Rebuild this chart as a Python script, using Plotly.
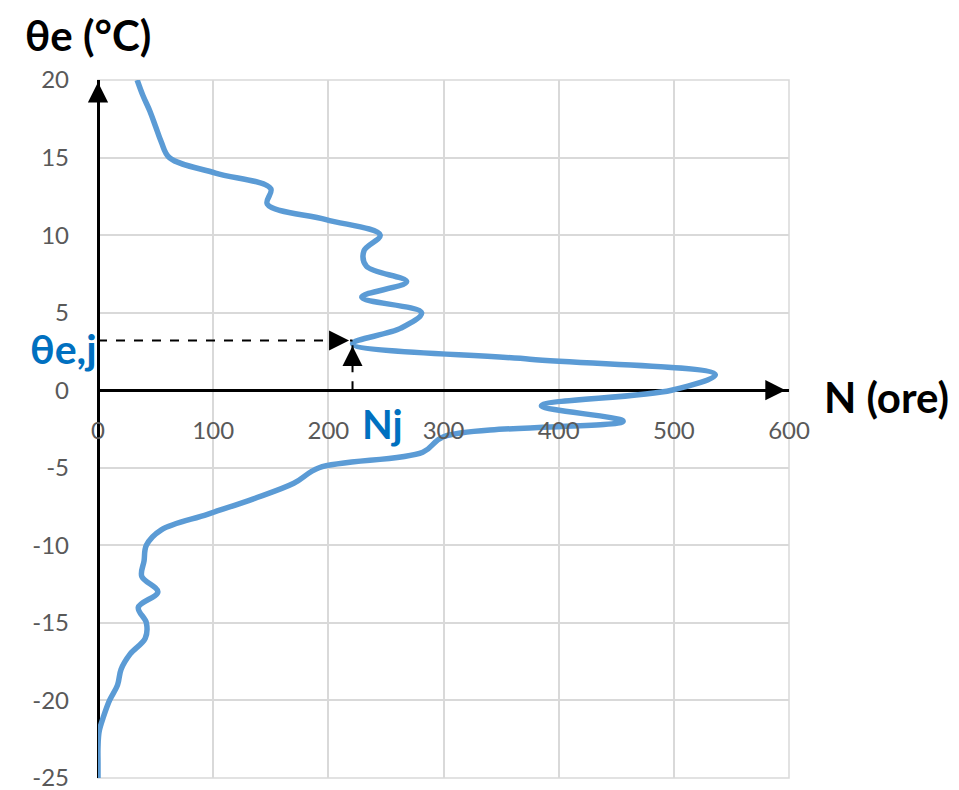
import plotly.graph_objects as go

# Outdoor temperature classes (°C) and number of hours N per class
theta_e = [20, 19, 18, 17, 16, 15, 14, 13, 12, 11, 10, 9, 8, 7, 6, 5, 4, 3, 2, 1, 0,
           -1, -2, -3, -4, -5, -6, -7, -8, -9, -10, -11, -12, -13, -14, -15, -16,
           -17, -18, -19, -20, -21, -22, -23, -24, -25]
n_hours = [34, 39, 45, 50, 55, 62, 102, 150, 147, 198, 245, 231, 233, 268, 229, 281, 263, 221, 375, 536, 498,
           385, 456, 300, 282, 192, 170, 135, 95, 55, 42, 40, 38, 52, 35, 42, 41,
           28, 20, 17, 10, 5, 1, 0, 0, 0]

# Marked point on the curve
NJ = 221
THETA_J = 3.2

x_ticks = [0, 100, 200, 300, 400, 500, 600]
y_ticks = [20, 15, 10, 5, 0, -5, -10, -15, -20, -25]

X_RANGE = [0, 600]
Y_RANGE = [-25, 20]

FONT = "Lato"
BLUE_LINE = "#5B9BD5"
BLUE_TEXT = "#0070C0"
GRID = "#d9d9d9"
TICK_COLOR = "#595959"

fig = go.Figure()

fig.add_trace(go.Scatter(
    x=n_hours, y=theta_e, mode="lines",
    line=dict(color=BLUE_LINE, width=5.5, shape="spline", smoothing=1.0),
    hoverinfo="x+y", showlegend=False,
))

# light frame closing the grid on all four sides
fig.add_shape(type="rect", xref="paper", yref="paper", x0=0, x1=1, y0=0, y1=1,
              line=dict(color=GRID, width=1.5), layer="below")

# dashed guide lines towards the marked point
fig.add_shape(type="line", x0=X_RANGE[0], x1=NJ, y0=THETA_J, y1=THETA_J,
              xref="x", yref="y", line=dict(color="black", width=2, dash="dash"))
fig.add_shape(type="line", x0=NJ, x1=NJ, y0=0, y1=THETA_J,
              xref="x", yref="y", line=dict(color="black", width=2, dash="dash"))

annotations = [
    # arrowheads of the guide lines
    dict(x=NJ - 3, y=THETA_J, xref="x", yref="y", ax=-14, ay=0, text="",
         showarrow=True, arrowhead=2, arrowsize=2, arrowwidth=2, arrowcolor="black"),
    dict(x=NJ, y=THETA_J - 0.35, xref="x", yref="y", ax=0, ay=14, text="",
         showarrow=True, arrowhead=2, arrowsize=2, arrowwidth=2, arrowcolor="black"),
    # arrowheads of the two axes
    dict(x=X_RANGE[1] - 3, y=0, xref="x", yref="y", ax=-16, ay=0, text="",
         showarrow=True, arrowhead=2, arrowsize=1.35, arrowwidth=3, arrowcolor="black"),
    dict(x=0, y=Y_RANGE[1] - 0.15, xref="x", yref="y", ax=0, ay=16, text="",
         showarrow=True, arrowhead=2, arrowsize=1.35, arrowwidth=3, arrowcolor="black"),
    # axis titles
    dict(x=-0.015, y=1.065, xref="paper", yref="paper", text="<b>θe (°C)</b>",
         showarrow=False, xanchor="center", yanchor="middle",
         font=dict(family=FONT, size=42, color="black")),
    dict(x=1.141, y=0.546, xref="paper", yref="paper", text="<b>N (ore)</b>",
         showarrow=False, xanchor="center", yanchor="middle",
         font=dict(family=FONT, size=42, color="black")),
    # labels of the marked point
    dict(x=-0.05, y=0.615, xref="paper", yref="paper", text="<b>θe,j</b>",
         showarrow=False, xanchor="center", yanchor="middle",
         font=dict(family=FONT, size=41, color=BLUE_TEXT)),
    dict(x=NJ + 26, y=-2.2, xref="x", yref="y", text="<b>Nj</b>",
         showarrow=False, xanchor="center", yanchor="middle",
         font=dict(family=FONT, size=40, color=BLUE_TEXT)),
]

fig.update_layout(
    width=959, height=790,
    margin=dict(l=98, r=170, t=80, b=12, autoexpand=False),
    paper_bgcolor="white", plot_bgcolor="white",
    annotations=annotations,
    showlegend=False,
)

fig.update_xaxes(
    range=X_RANGE, tickvals=x_ticks, ticktext=[str(v) for v in x_ticks],
    showgrid=True, gridcolor=GRID, gridwidth=1.5,
    zeroline=True, zerolinecolor="black", zerolinewidth=3,
    showline=False, ticks="", automargin=False,
    anchor="free", position=(0 - Y_RANGE[0]) / (Y_RANGE[1] - Y_RANGE[0]),
    ticklabelstandoff=24, ticklabeloverflow="allow",
    tickfont=dict(family=FONT, size=24, color=TICK_COLOR),
)
fig.update_yaxes(
    range=Y_RANGE, tickvals=y_ticks, ticktext=[str(v) for v in y_ticks],
    showgrid=True, gridcolor=GRID, gridwidth=1.5,
    zeroline=True, zerolinecolor="black", zerolinewidth=3,
    showline=False, ticks="", automargin=False,
    ticklabelstandoff=28, ticklabeloverflow="allow",
    tickfont=dict(family=FONT, size=24, color=TICK_COLOR),
)

fig.write_html("out.html")
